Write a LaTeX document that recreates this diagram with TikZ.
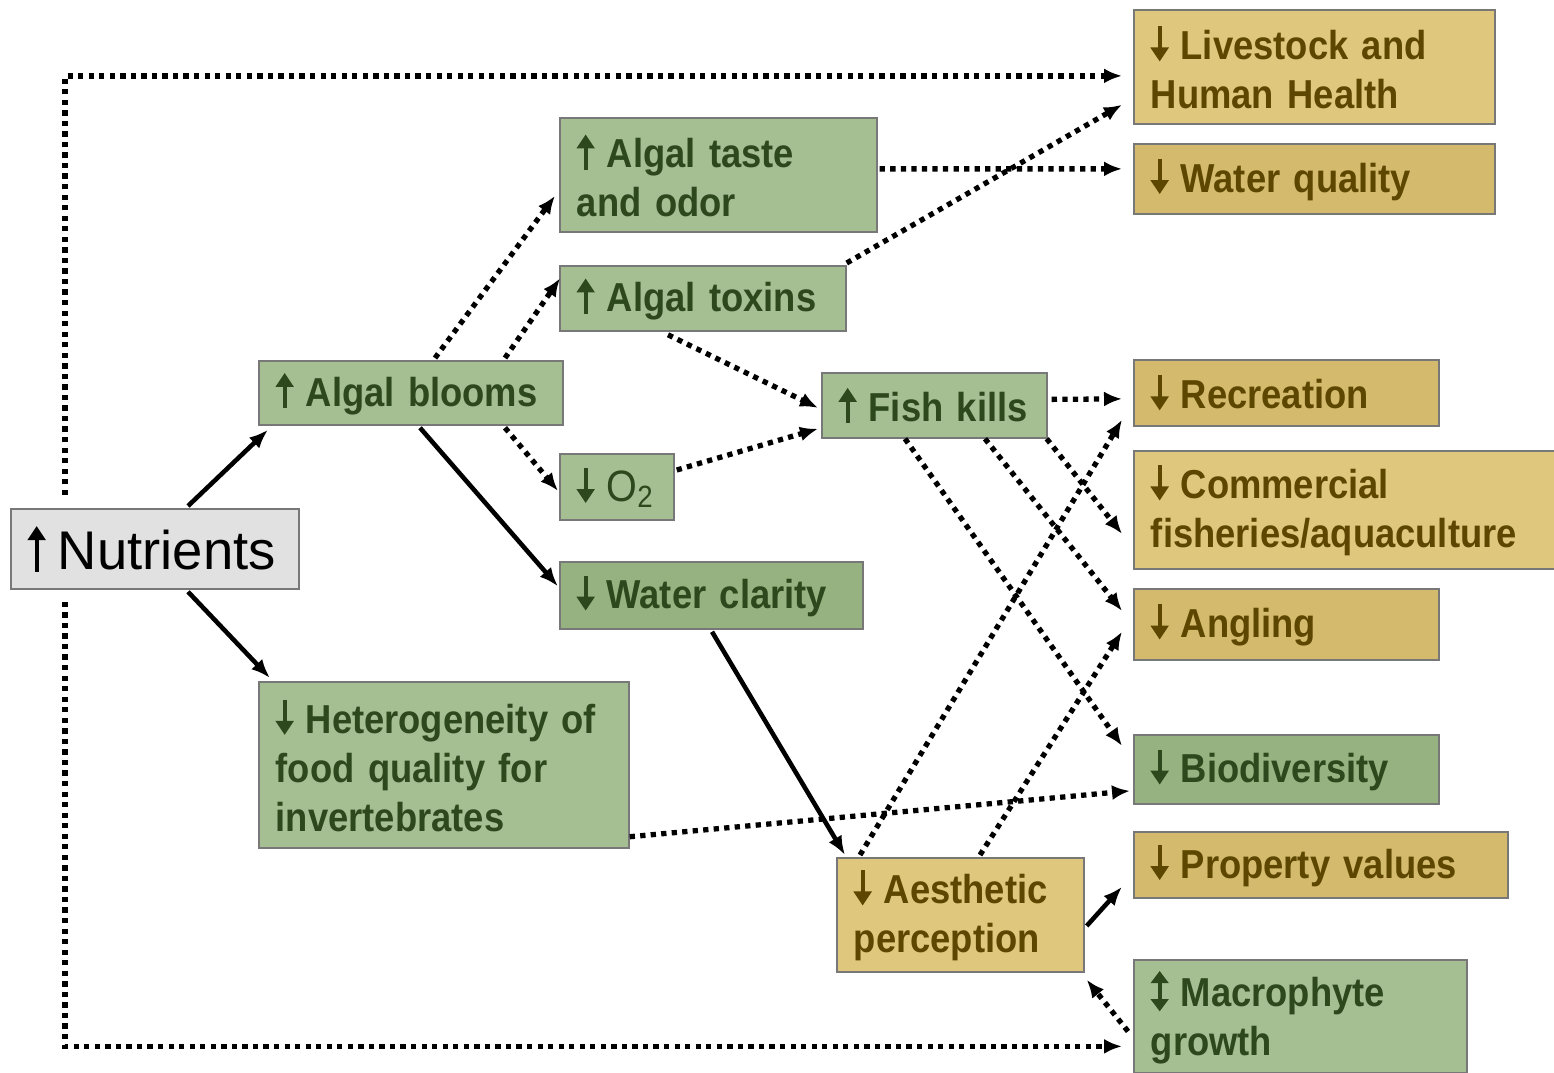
\documentclass[tikz,border=0pt]{standalone}
\usepackage{fontspec}
\setmainfont[FakeStretch=0.9]{Liberation Sans}
\newfontfamily\nutfont{Liberation Sans}
\usetikzlibrary{arrows.meta,positioning,calc}

\definecolor{boxgreen}{RGB}{166,191,146}
\definecolor{boxgreendark}{RGB}{150,178,128}
\definecolor{textgreen}{RGB}{44,72,28}
\definecolor{boxtan}{RGB}{223,199,125}
\definecolor{boxtandark}{RGB}{212,186,108}
\definecolor{texttan}{RGB}{92,70,0}
\definecolor{boxgray}{RGB}{225,225,225}
\definecolor{edgegray}{RGB}{120,120,120}

% trend marks in front of the labels
\newcommand\upmark[1][1]{\tikz[baseline=0pt,x=#1pt,y=#1pt]
    \draw[line width=2.3pt,-{Triangle[length=8pt,width=10pt]}] (0,-1) -- (0,19);\hspace{7pt}}
\newcommand\dnmark[1][1]{\tikz[baseline=0pt,x=#1pt,y=#1pt]
    \draw[line width=2.3pt,-{Triangle[length=8pt,width=10pt]}] (0,19) -- (0,-1);\hspace{7pt}}
\newcommand\updnmark{\tikz[baseline=0pt,x=1pt,y=1pt]
    \draw[line width=2.3pt,{Triangle[length=7pt,width=10pt]}-{Triangle[length=7pt,width=10pt]}] (0,-3) -- (0,20);\hspace{7pt}}

\begin{document}
\begin{tikzpicture}[
    x=0.02cm, y=-0.02cm,
    box/.style n args={2}{
        draw=edgegray,
        line width=1pt,
        anchor=north west,
        inner xsep=0.34cm,
        inner ysep=0pt,
        align=left,
        font=\fontsize{23}{28}\selectfont\bfseries,
        minimum width=#1cm,
        minimum height=#2cm,
        /utils/exec={\pgfmathsetmacro\boxtw{#1-0.68}},
        text width=\boxtw cm
    },
    greenbox/.style n args={2}{box={#1}{#2}, fill=boxgreen, text=textgreen},
    tanbox/.style n args={2}{box={#1}{#2}, fill=boxtan, text=texttan},
    solidarrow/.style={-{Latex[length=0.38cm,width=0.3cm]}, line width=2.6pt},
    dotarrow/.style={-{Latex[length=0.36cm,width=0.3cm]}, line width=3pt,
        dash pattern=on 3pt off 3pt}
]
\useasboundingbox (0,0) rectangle (1554,1072);

% Source
\node[box={5.76}{1.6}, fill=boxgray, text=black, inner xsep=0.24cm,
    font=\nutfont\fontsize{31}{36}\selectfont] (nut) at (10,508) {\upmark[1.3]Nutrients};

% First and second level effects
\node[greenbox={6.08}{1.28}] (blooms) at (258,360) {\upmark Algal blooms};
\node[greenbox={6.34}{2.28}] (taste) at (559,117) {\upmark Algal taste\\and odor};
\node[greenbox={5.72}{1.3}] (toxins) at (559,265) {\upmark Algal toxins};
\node[greenbox={2.28}{1.32}] (oxy) at (559,453) {\dnmark{\mdseries\fontsize{25}{28}\selectfont O\textsubscript{2}}};
\node[greenbox={6.06}{1.34}, fill=boxgreendark] (clarity) at (559,561) {\dnmark Water clarity};
\node[greenbox={7.4}{3.32}] (hetero) at (258,681) {\dnmark Heterogeneity of\\food quality for\\invertebrates};
\node[greenbox={4.5}{1.3}] (fish) at (821,372) {\upmark Fish kills};
\node[tanbox={4.94}{2.28}] (aesth) at (836,857) {\dnmark Aesthetic\\perception};

% Outcomes
\node[tanbox={7.22}{2.28}] (live) at (1133,9) {\dnmark Livestock and\\Human Health};
\node[tanbox={7.22}{1.4}, fill=boxtandark] (wq) at (1133,143) {\dnmark Water quality};
\node[tanbox={6.1}{1.32}, fill=boxtandark] (recr) at (1133,359) {\dnmark Recreation};
\node[tanbox={8.42}{2.36}] (comm) at (1133,450) {\dnmark Commercial\\fisheries/aquaculture};
\node[tanbox={6.1}{1.42}, fill=boxtandark] (angl) at (1133,588) {\dnmark Angling};
\node[greenbox={6.1}{1.38}, fill=boxgreendark] (bio) at (1133,734) {\dnmark Biodiversity};
\node[tanbox={7.48}{1.32}, fill=boxtandark] (prop) at (1133,831) {\dnmark Property values};
\node[greenbox={6.66}{2.26}] (macro) at (1133,959) {\updnmark Macrophyte\\growth};

% Solid links
\draw[solidarrow] ($(nut.north west)+(178,-2)$) -- ($(blooms.south west)+(10,4)$);
\draw[solidarrow] ($(nut.south west)+(178,2)$) -- ($(hetero.north west)+(12,-3)$);
\draw[solidarrow] ($(blooms.south west)+(162,2)$) -- ($(clarity.west)+(-1,-9)$);
\draw[solidarrow] ($(clarity.south west)+(153,2)$) -- ($(aesth.north west)+(9,-2)$);
\draw[solidarrow] ($(aesth.east)+(2,11)$) -- ($(prop.south west)+(-11,-12)$);

% Dotted links
\draw[dotarrow] ($(nut.north west)+(55,-13)$) |- ($(live.west)+(-11,9)$);
\draw[dotarrow] ($(nut.south west)+(55,12)$) |- ($(macro.west)+(-11,30)$);
\draw[dotarrow] ($(blooms.north west)+(177,-2)$) -- ($(taste.west)+(-4,21)$);
\draw[dotarrow] ($(blooms.north west)+(247,-2)$) -- ($(toxins.west)+(1,-20)$);
\draw[dotarrow] ($(blooms.south west)+(247,2)$) -- ($(oxy.west)+(-1,4)$);
\draw[dotarrow] ($(taste.east)+(2,-6)$) -- ($(wq.west)+(-11,-10)$);
\draw[dotarrow] ($(toxins.north east)+(0,-2)$) -- ($(live.south west)+(-11,-20)$);
\draw[dotarrow] ($(toxins.south west)+(109,3)$) -- ($(fish.west)+(-3,2.5)$);
\draw[dotarrow] ($(oxy.north east)+(2,17)$) -- ($(fish.south west)+(-3,-10)$);
\draw[dotarrow] ($(fish.east)+(4,-6)$) -- ($(recr.west)+(-11,6)$);
\draw[dotarrow] ($(fish.south east)+(-1,0)$) -- ($(comm.west)+(-11,24)$);
\draw[dotarrow] ($(fish.south west)+(164,0)$) -- ($(angl.west)+(-11,-13.5)$);
\draw[dotarrow] ($(fish.south west)+(84,0)$) -- ($(bio.west)+(-11,-23.5)$);
\draw[dotarrow] ($(hetero.south east)+(0,-12)$) -- ($(bio.west)+(-3,21.5)$);
\draw[dotarrow] ($(aesth.north west)+(24,-2)$) -- ($(recr.south west)+(-11,-7)$);
\draw[dotarrow] ($(aesth.north west)+(144,-2)$) -- ($(angl.south west)+(-11,-29)$);
\draw[dotarrow] ($(macro.west)+(-5,15)$) -- ($(aesth.south east)+(2,7)$);

\end{tikzpicture}
\end{document}
